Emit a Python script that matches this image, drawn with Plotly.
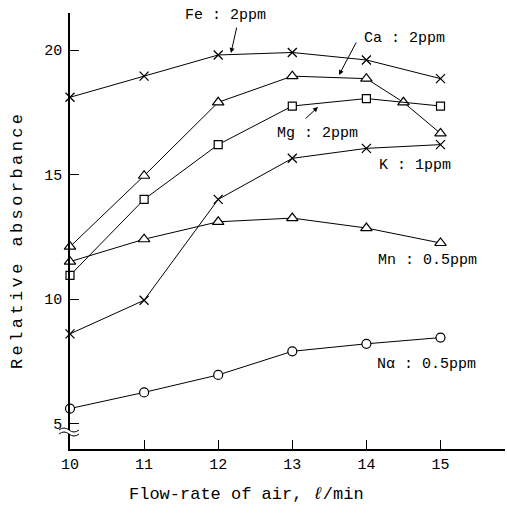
import plotly.graph_objects as go

# ---- data ----
flow = [10, 11, 12, 13, 14, 15]
flow_ca = [10, 11, 12, 13, 14, 14.5, 15]
fe = [18.1, 18.95, 19.8, 19.9, 19.6, 18.85]
ca = [12.1, 14.95, 17.9, 18.95, 18.85, 17.9, 16.65]
mg = [10.95, 14.0, 16.2, 17.75, 18.05, 17.75]
k = [8.6, 9.95, 14.0, 15.65, 16.05, 16.2]
mn = [11.5, 12.4, 13.1, 13.25, 12.85, 12.25]
na = [5.6, 6.25, 6.95, 7.9, 8.2, 8.45]

x_ticks = [10, 11, 12, 13, 14, 15]
y_ticks = [5, 10, 15, 20]

labels = {
    "Fe": "Fe : 2ppm",
    "Ca": "Ca : 2ppm",
    "Mg": "Mg : 2ppm",
    "K": "K : 1ppm",
    "Mn": "Mn : 0.5ppm",
    "Na": "Nα : 0.5ppm",
}

FONT = "Liberation Mono, DejaVu Sans Mono, monospace"
W, H = 507, 514
ML, MR, MT, MB = 70, 2, 13, 65
PW, PH = W - ML - MR, H - MT - MB
XR = [10, 10 + PW / 74.1]
YR = [20 - (449 - 50) / 24.9, 20 + (50 - MT) / 24.9]


def px2x(px):
    return XR[0] + (px - ML) / PW * (XR[1] - XR[0])


def py2y(py):
    return YR[1] - (py - MT) / PH * (YR[1] - YR[0])


def ppx(px):
    return (px - ML) / PW


def ppy(py):
    return 1 - (py - MT) / PH


fig = go.Figure()
line = dict(color="black", width=1)


def add(xs, ys, symbol, size):
    if symbol.startswith("x"):
        marker = dict(symbol="x-thin", size=size, color="black",
                      line=dict(color="black", width=1.3))
    else:
        marker = dict(symbol=symbol, size=size, color="white",
                      line=dict(color="black", width=1.2))
    fig.add_trace(go.Scatter(
        x=xs, y=ys, mode="lines+markers", line=line, marker=marker,
        cliponaxis=False, showlegend=False))


add(flow, fe, "x", 9)
add(flow_ca, ca, "triangle-up", 10)
add(flow, mg, "square", 8)
add(flow, k, "x", 9)
add(flow, mn, "triangle-up", 10)
add(flow, na, "circle", 9)

ann = []
# series labels
lab_pos = {
    "Fe": (183, 15),
    "Ca": (362, 38),
    "Mg": (275, 133),
    "K": (377, 165),
    "Mn": (376, 260),
    "Na": (375, 364),
}
for key, (px, py) in lab_pos.items():
    ann.append(dict(x=px2x(px), y=py2y(py), xref="x", yref="y", text=labels[key],
                    showarrow=False, xanchor="left", yanchor="middle",
                    font=dict(family=FONT, size=15, color="black")))

# arrows (tip at the line, tail near the label)
arrows = [((231, 53), (6, -27)), ((339, 75), (18, -34)), ((318, 107), (-14, 13))]
for (tx, ty), (ax, ay) in arrows:
    ann.append(dict(x=px2x(tx), y=py2y(ty), xref="x", yref="y", text="",
                    showarrow=True, ax=ax, ay=ay, arrowhead=2, arrowsize=1,
                    arrowwidth=1, arrowcolor="black", standoff=0))

# axis titles
ann.append(dict(x=ppx(246), y=ppy(495), xref="paper", yref="paper",
                text="Flow-rate of air, <i>ℓ</i>/min",
                showarrow=False, xanchor="center", yanchor="middle",
                font=dict(family=FONT, size=17, color="black")))
ytitle = "\u2009".join("Relative") + "\u2009\u2009 " + "\u2009".join("absorbance")
ann.append(dict(x=ppx(17), y=ppy(242), xref="paper", yref="paper", text=ytitle,
                textangle=-90, showarrow=False, xanchor="center", yanchor="middle",
                font=dict(family=FONT, size=17, color="black")))

# axis break symbol on y axis
shapes = [dict(type="rect", xref="paper", yref="paper", x0=ppx(67), x1=ppx(73),
               y0=ppy(434), y1=ppy(430), fillcolor="white",
               line=dict(width=0), layer="above")]
for py in (430, 434):
    path = (f"M {ppx(59)},{ppy(py)} Q {ppx(64)},{ppy(py - 4)} {ppx(69)},{ppy(py)} "
            f"T {ppx(79)},{ppy(py)}")
    shapes.append(dict(type="path", path=path, xref="paper", yref="paper",
                       line=dict(color="black", width=1), layer="above"))

fig.update_layout(
    width=W, height=H,
    margin=dict(l=ML, r=MR, t=MT, b=MB),
    plot_bgcolor="white", paper_bgcolor="white",
    font=dict(family=FONT, size=15, color="black"),
    annotations=ann, shapes=shapes,
    xaxis=dict(range=XR, tickvals=x_ticks, ticktext=[str(v) for v in x_ticks],
               ticks="inside", ticklen=9, tickcolor="black", tickwidth=1,
               showline=True, linecolor="black", linewidth=1.5,
               showgrid=False, zeroline=False, mirror=False,
               tickfont=dict(family=FONT, size=15)),
    yaxis=dict(range=YR, tickvals=y_ticks,
               ticktext=[str(v) + "\u2009" for v in y_ticks],
               ticks="inside", ticklen=9, tickcolor="black", tickwidth=1,
               showline=True, linecolor="black", linewidth=1.5,
               showgrid=False, zeroline=False, mirror=False,
               tickfont=dict(family=FONT, size=15)),
)

fig.write_html("out.html")
